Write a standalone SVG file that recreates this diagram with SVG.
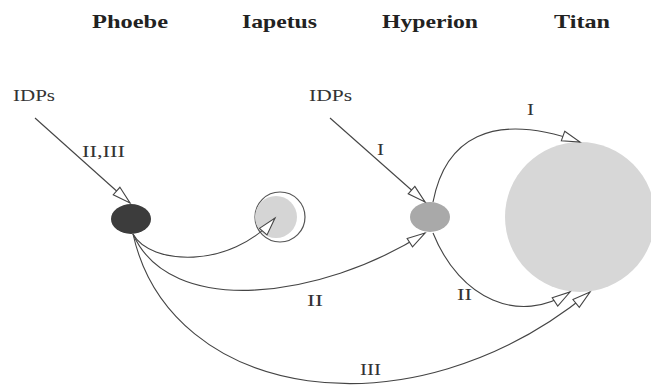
<svg xmlns="http://www.w3.org/2000/svg" width="651" height="385" viewBox="0 0 651 385">
<style>
.title{font-family:"Liberation Serif","DejaVu Serif",serif;font-weight:bold;font-size:19px;fill:#222}
.lbl{font-family:"Liberation Serif","DejaVu Serif",serif;font-size:17px;fill:#333}
.conn{fill:none;stroke:#444;stroke-width:1.1;marker-end:url(#arr)}
</style>
<defs>
<marker id="arr" markerUnits="userSpaceOnUse" markerWidth="20" markerHeight="12" refX="18" refY="5" orient="auto" overflow="visible">
<path d="M0,0 L18,5 L0,10 Z" fill="#fff" stroke="#444" stroke-width="1.1"/>
</marker>
</defs>
<rect width="651" height="385" fill="#fff"/>
<g id="titles">
<text class="title" x="92" y="28" textLength="76" lengthAdjust="spacingAndGlyphs">Phoebe</text>
<text class="title" x="242" y="28" textLength="75" lengthAdjust="spacingAndGlyphs">Iapetus</text>
<text class="title" x="382" y="28" textLength="96" lengthAdjust="spacingAndGlyphs">Hyperion</text>
<text class="title" x="554" y="28" textLength="56" lengthAdjust="spacingAndGlyphs">Titan</text>
</g>
<g id="titan"><circle cx="580" cy="217" r="75" fill="#d7d7d7"/></g>
<g id="phoebe"><ellipse cx="131" cy="219" rx="20" ry="15" fill="#3c3c3c"/></g>
<g id="iapetus">
<circle cx="280" cy="217" r="25" fill="#fff" stroke="#555" stroke-width="1.2"/>
<circle cx="276" cy="217" r="21" fill="#d5d5d5"/>
</g>
<g id="hyperion"><ellipse cx="430" cy="217" rx="20" ry="15" fill="#a9a9a9"/></g>
<g id="idps-left"><text class="lbl" x="13" y="101" textLength="42" lengthAdjust="spacingAndGlyphs">IDPs</text></g>
<g id="idps-mid"><text class="lbl" x="309" y="101" textLength="43" lengthAdjust="spacingAndGlyphs">IDPs</text></g>
<g id="connectors">
<path class="conn" d="M35,118 L130,203"/>
<path class="conn" d="M330,118 L425,202"/>
<path class="conn" d="M133,234 C150,265 230,270 275,218"/>
<path class="conn" d="M133,234 C170,318 320,300 425,233"/>
<path class="conn" d="M133,234 C170,400 410,440 590,292"/>
<path class="conn" d="M433,202 C445,140 490,110 580,142"/>
<path class="conn" d="M433,233 C460,300 520,325 570,292"/>
</g>
<g id="labels">
<text class="lbl" x="82" y="157" textLength="43" lengthAdjust="spacingAndGlyphs">II,III</text>
<text class="lbl" x="377" y="155" textLength="7" lengthAdjust="spacingAndGlyphs">I</text>
<text class="lbl" x="527" y="115" textLength="7" lengthAdjust="spacingAndGlyphs">I</text>
<text class="lbl" x="307" y="306" textLength="16" lengthAdjust="spacingAndGlyphs">II</text>
<text class="lbl" x="457" y="300" textLength="15" lengthAdjust="spacingAndGlyphs">II</text>
<text class="lbl" x="360" y="375" textLength="21" lengthAdjust="spacingAndGlyphs">III</text>
</g>
</svg>
